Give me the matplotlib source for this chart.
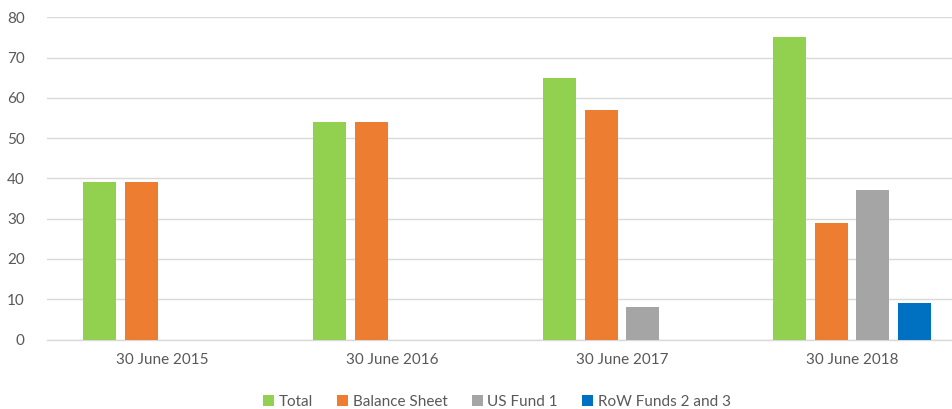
import matplotlib.pyplot as plt
import numpy as np

periods = ["30 June 2015", "30 June 2016", "30 June 2017", "30 June 2018"]
series_names = ["Total", "Balance Sheet", "US Fund 1", "RoW Funds 2 and 3"]
total = [39, 54, 65, 75]
balance_sheet = [39, 54, 57, 29]
us_fund_1 = [0, 0, 8, 37]
row_funds = [0, 0, 0, 9]
colors = ["#92D050", "#ED7D31", "#A5A5A5", "#0070C0"]

TEXT_COLOR = "#595959"
GRID_COLOR = "#D9D9D9"


def main() -> None:
    plt.rcParams["font.family"] = ["Lato", "DejaVu Sans"]

    figure = plt.figure(figsize=(9.53, 4.09), dpi=100)
    # plot area runs past the right edge, as in the cropped reference
    axis = figure.add_axes([47 / 953, 69.5 / 409, 920 / 953, 322.2 / 409])

    positions = np.arange(len(periods))
    step = 0.182
    bar_width = 0.143
    all_values = [total, balance_sheet, us_fund_1, row_funds]

    for index, (name, values, color) in enumerate(
        zip(series_names, all_values, colors, strict=True)
    ):
        offset = (index - 1.5) * step
        axis.bar(
            positions + offset,
            values,
            width=bar_width,
            color=color,
            label=name,
            zorder=3,
        )

    axis.set_xlim(-0.5, len(periods) - 0.5)
    axis.set_ylim(0, 80)
    axis.set_yticks(np.arange(0, 81, 10))
    axis.set_xticks(positions, labels=periods)

    axis.grid(True, axis="y", color=GRID_COLOR, linewidth=1.0, zorder=0)
    for side in ["top", "right", "left"]:
        axis.spines[side].set_visible(False)
    axis.spines["bottom"].set_color(GRID_COLOR)
    axis.spines["bottom"].set_linewidth(1.0)

    axis.tick_params(axis="both", length=0, colors=TEXT_COLOR, labelsize=11)
    axis.tick_params(axis="y", pad=16)
    axis.tick_params(axis="x", pad=10)

    figure.legend(
        loc="center",
        bbox_to_anchor=(497 / 953, 7 / 409),
        ncol=4,
        frameon=False,
        fontsize=11,
        labelcolor=TEXT_COLOR,
        handlelength=0.7,
        handleheight=0.7,
        handletextpad=0.3,
        columnspacing=1.6,
    )

    figure.savefig("out.png", dpi=100)
    plt.close(figure)


if __name__ == "__main__":
    main()
